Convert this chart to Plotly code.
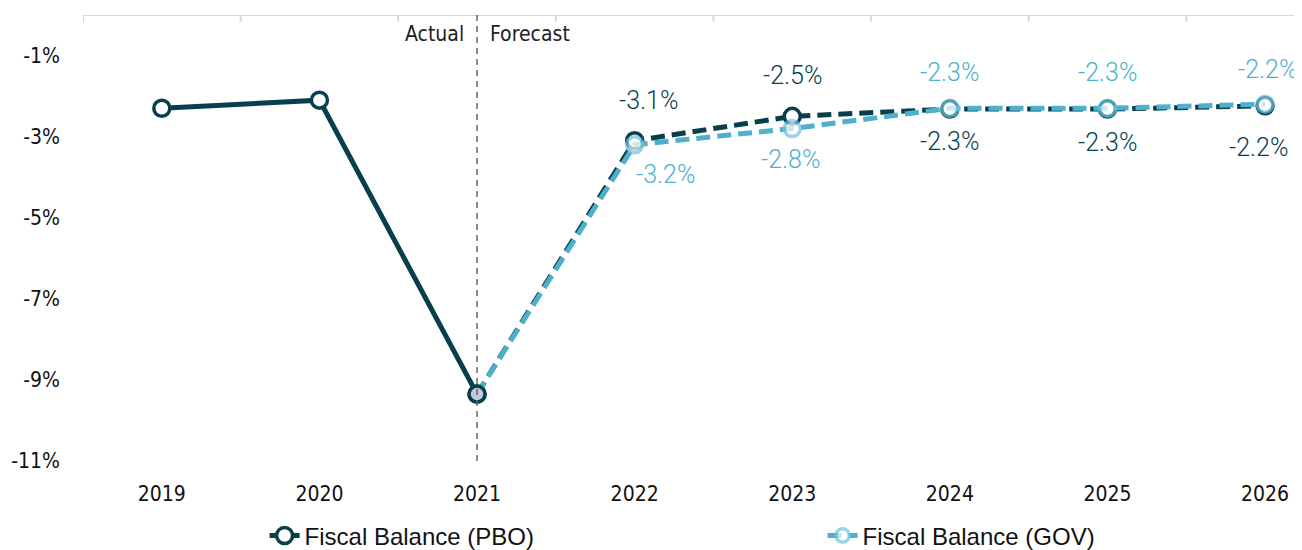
import plotly.graph_objects as go

years = ["2019", "2020", "2021", "2022", "2023", "2024", "2025", "2026"]
pbo_actual_years = ["2019", "2020", "2021"]
pbo_actual = [-2.3, -2.1, -9.35]
pbo_fc_years = ["2021", "2022", "2023", "2024", "2025", "2026"]
pbo_fc = [-9.35, -3.1, -2.5, -2.32, -2.32, -2.24]
gov_years = ["2021", "2022", "2023", "2024", "2025", "2026"]
gov_fc = [-9.35, -3.2, -2.8, -2.3, -2.3, -2.2]

# label offsets in px (xshift, yshift) per forecast point, None = no label
pbo_label_off = [None, (14, 40), (0, 41), (0, -32), (0, -33), (-7, -42)]
gov_label_off = [None, (31, -30), (-2, -31), (0, 36), (0, 36), (2, 35)]

dark = "#083f4c"
light = "#4fb0cb"
ring = "#6ec4de"
narrow = "DejaVu Sans Condensed, Liberation Sans Narrow, Arial Narrow, sans-serif"
tick_font = dict(family=narrow, size=21, color="#111111")
label_font = "Roboto, Lato, sans-serif"

fig = go.Figure()

fig.add_trace(go.Scatter(
    x=pbo_fc_years, y=pbo_fc, mode="lines+markers", name="Fiscal Balance (PBO)",
    line=dict(color=dark, width=5, dash="14px,7px"),
    marker=dict(size=16, color="white", line=dict(color=dark, width=3.5)),
    hoverinfo="skip",
))
fig.add_trace(go.Scatter(
    x=gov_years, y=gov_fc, mode="lines+markers", name="Fiscal Balance (GOV)",
    line=dict(color=light, width=5, dash="14px,7px"),
    marker=dict(size=[0, 16, 16, 16, 16, 16], color="white", line=dict(color=ring, width=3.5)),
    hoverinfo="skip",
))
fig.add_trace(go.Scatter(
    x=pbo_actual_years, y=pbo_actual, mode="lines+markers", showlegend=False,
    line=dict(color=dark, width=5),
    marker=dict(size=16, color=["white", "white", "#c3c9dc"], line=dict(color=dark, width=3.5)),
    hoverinfo="skip",
))

for yr, val, off in zip(pbo_fc_years, pbo_fc, pbo_label_off):
    if off is None:
        continue
    fig.add_annotation(x=years.index(yr), y=val, text=f"{val:.1f}%", showarrow=False,
                       xshift=off[0], yshift=off[1],
                       font=dict(family=label_font, size=25, color=dark, weight=300))
for yr, val, off in zip(gov_years, gov_fc, gov_label_off):
    if off is None:
        continue
    fig.add_annotation(x=years.index(yr), y=val, text=f"{val:.1f}%", showarrow=False,
                       xshift=off[0], yshift=off[1],
                       font=dict(family=label_font, size=25, color=light, weight=300))

# top axis line with ticks on category boundaries
fig.add_shape(type="line", xref="paper", x0=0, x1=1, yref="y", y0=0, y1=0,
              line=dict(color="#d9d9d9", width=2))
for i in range(len(years)):
    fig.add_shape(type="line", xref="x", x0=i - 0.5, x1=i - 0.5, yref="y", y0=0, y1=-0.17,
                  line=dict(color="#d9d9d9", width=2))

fig.add_shape(type="line", x0=years.index("2021"), x1=years.index("2021"), y0=0, y1=-11,
              xref="x", yref="y", line=dict(color="#666666", width=1.5, dash="6px,5px"))
fig.add_annotation(x=years.index("2021"), y=0, yanchor="top", xanchor="right", xshift=-11, yshift=-5,
                   text="Actual", showarrow=False,
                   font=dict(family=narrow, size=21, color="#222222"))
fig.add_annotation(x=years.index("2021"), y=0, yanchor="top", xanchor="left", xshift=11, yshift=-5,
                   text="Forecast", showarrow=False,
                   font=dict(family=narrow, size=21, color="#222222"))

fig.update_layout(
    width=1302, height=550,
    margin=dict(l=75, r=0, t=7, b=97, autoexpand=False),
    plot_bgcolor="white", paper_bgcolor="white",
    xaxis=dict(type="category", categoryarray=years, range=[-0.5, 7.285], showgrid=False,
               showline=False, ticks="", tickfont=tick_font, ticklabelstandoff=18,
               automargin=False),
    yaxis=dict(range=[-11, 0], tickvals=[-1, -3, -5, -7, -9, -11],
               ticktext=["-1%", "-3%", "-5%", "-7%", "-9%", "-11%"],
               showgrid=False, zeroline=False, showline=False, tickfont=tick_font,
               ticklabelstandoff=22, automargin=False),
    legend=dict(orientation="h", x=0.148, xanchor="left", y=-0.168, yanchor="middle",
                entrywidth=513, entrywidthmode="pixels",
                font=dict(family="Liberation Sans, Arial, sans-serif", size=24, color="#111111")),
    showlegend=True,
)

fig.write_html("out.html")
